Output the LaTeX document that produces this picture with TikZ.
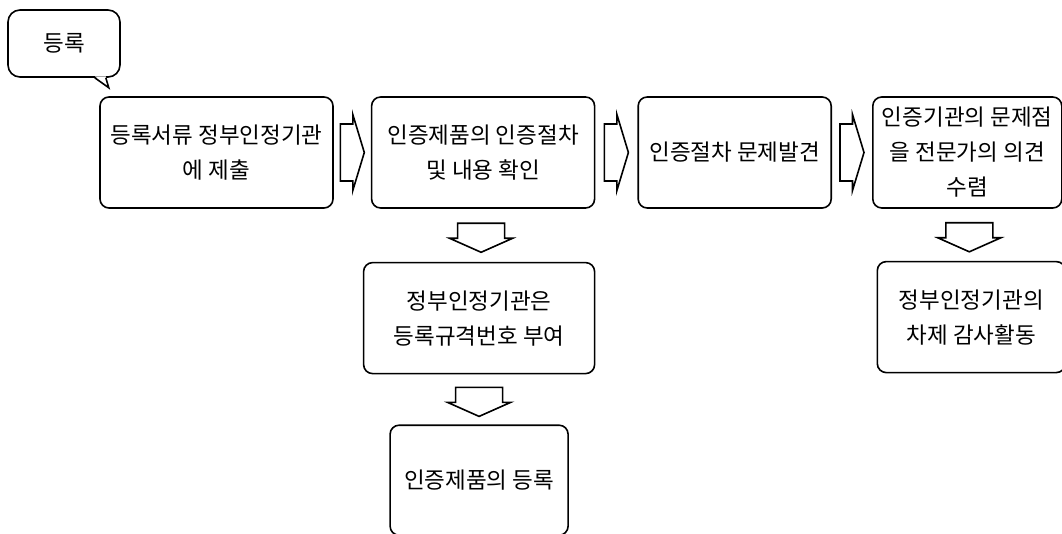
\documentclass[tikz,border=0pt]{standalone}
\usepackage{fontspec}
\setmainfont{Noto Sans CJK KR}
\usetikzlibrary{positioning,calc}

\begin{document}
\begin{tikzpicture}[
      x=1pt, y=1pt,
      font=\fontsize{22.5}{35}\selectfont,
      line width=1.6pt,
      box/.style={draw, rounded corners=9pt, align=center, inner sep=1pt, minimum height=111pt},
      flow/.style={draw, line join=miter}
    ]
    \useasboundingbox (0,0) rectangle (1062,-534);

    % Speech bubble
    \node[draw, rounded corners=12pt, minimum width=112pt, minimum height=67pt] (bubble) at (64,-43.5) {등록};
    \coordinate (tail) at ($(bubble.south east)+(-12,-10)$);
    \fill[white] ($(bubble.south east)+(-26,1.5)$) -- (tail) -- ($(bubble.south east)+(-15,1.5)$) -- cycle;
    \draw ($(bubble.south east)+(-26,0)$) -- (tail) -- ($(bubble.south east)+(-15,0)$);

    % Top row
    \node[box, minimum width=233pt] (reg) at (216.5,-152.5) {등록서류 정부인정기관\\에 제출};
    \node[box, minimum width=223pt, right=37pt of reg] (check) {인증제품의 인증절차\\및 내용 확인};
    \node[box, minimum width=193pt, right=42pt of check] (issue) {인증절차 문제발견};
    \node[box, minimum width=189pt, right=40pt of issue] (expert) {인증기관의 문제점\\을 전문가의 의견\\수렴};
    \coordinate (a1) at ($(reg.east)!0.5!(check.west)$);
    \coordinate (a2) at ($(check.east)!0.5!(issue.west)$);
    \coordinate (a3) at ($(issue.east)!0.5!(expert.west)$);
    \foreach \a in {a1,a2,a3}
      \draw[flow] (\a) ++(-12,28.5) -- ++(12.5,0) -- ++(0,9.5) -- ++(11.5,-38) -- ++(-11.5,-38) -- ++(0,9.5) -- ++(-12.5,0) -- cycle;

    % Registration branch
    \node[box, minimum width=231pt, below=53pt of check, xshift=-4pt] (number) {정부인정기관은\\등록규격번호 부여};
    \node[box, minimum width=178pt, minimum height=110pt, below=50pt of number] (done) {인증제품의 등록};
    \coordinate (d1) at ($(check.south)!0.5!(number.north)$);
    \coordinate (d2) at ($(number.south)!0.5!(done.north)$);

    % Audit branch
    \node[box, minimum width=188pt, below=52pt of expert, xshift=4pt] (audit) {정부인정기관의\\차제 감사활동};
    \coordinate (d3) at ($(expert.south)!0.5!(audit.north)$);
    \foreach \d in {d1,d2,d3}
      \draw[flow] (\d) ++(-23.5,12) -- ++(0,-15) -- ++(-8,0) -- ++(31.5,-14) -- ++(31.5,14) -- ++(-8,0) -- ++(0,15) -- cycle;
\end{tikzpicture}
\end{document}
